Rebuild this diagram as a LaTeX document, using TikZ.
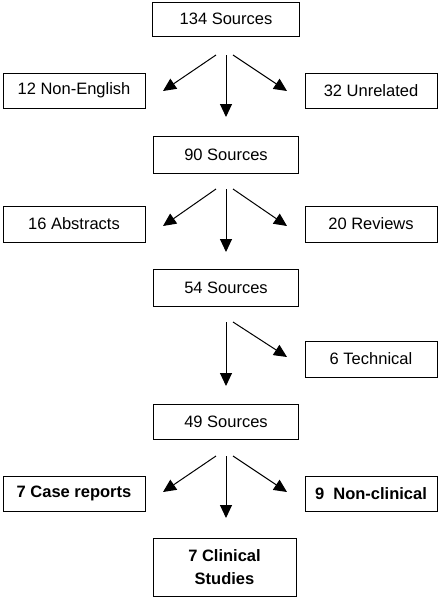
\documentclass[tikz,border=0pt]{standalone}
\usepackage{fontspec}
\setmainfont{Liberation Sans}
\usetikzlibrary{arrows.meta}
\begin{document}
\begin{tikzpicture}[x=1pt,y=-1pt,
        box/.style={draw=black, line width=1pt, inner sep=0pt, font=\fontsize{16.5}{23}\selectfont, align=center},
        arr/.style={line width=1pt, -{Triangle[length=13pt,width=12pt]}}]
        \useasboundingbox (0,0) rectangle (441,598);

        \node [box, minimum width=147pt, minimum height=34pt] (S134) at (226,19) {134 Sources};
        \node [box, minimum width=142pt, minimum height=35pt] (NonEng) at (74,90.5) {12 Non-English};
        \node [box, minimum width=132pt, minimum height=35pt] (Unrel) at (371,90.5) {32 Unrelated};
        \node [box, minimum width=145pt, minimum height=37pt] (S90) at (226,154.5) {90 Sources};
        \node [box, minimum width=142pt, minimum height=36pt] (Abstr) at (74,224) {16 Abstracts};
        \node [box, minimum width=132pt, minimum height=36pt] (Revw) at (371,224) {20 Reviews};
        \node [box, minimum width=145pt, minimum height=37pt] (S54) at (226,287.5) {54 Sources};
        \node [box, minimum width=132pt, minimum height=36pt] (Tech) at (371,359) {6 Technical};
        \node [box, minimum width=145pt, minimum height=35pt] (S49) at (226,421.5) {49 Sources};
        \node [box, minimum width=142pt, minimum height=35pt, font=\fontsize{16.5}{23}\selectfont\bfseries] (Case) at (74,493.5) {7 Case reports};
        \node [box, minimum width=132pt, minimum height=35pt, font=\fontsize{16.5}{23}\selectfont\bfseries] (NonClin) at (371,493.5) {9\ \ Non-clinical};
        \node [box, minimum width=143pt, minimum height=58pt, font=\fontsize{16.5}{23}\selectfont\bfseries] (Clin) at (224.5,567) {7 Clinical\\Studies};

        % stage 1
        \coordinate (a1) at (216,55); \coordinate (a2) at (226,55); \coordinate (a3) at (233,55);
        \coordinate (b1) at (163,91); \coordinate (b2) at (226,117); \coordinate (b3) at (287,91);
        \draw [arr] (a1) -- (b1); \draw [arr] (a2) -- (b2); \draw [arr] (a3) -- (b3);

        % stage 2
        \coordinate (c1) at (216,189); \coordinate (c2) at (226,189); \coordinate (c3) at (233,189);
        \coordinate (d1) at (163,226); \coordinate (d2) at (226,252); \coordinate (d3) at (287,226);
        \draw [arr] (c1) -- (d1); \draw [arr] (c2) -- (d2); \draw [arr] (c3) -- (d3);

        % stage 3
        \coordinate (e2) at (226,322); \coordinate (e3) at (233,322);
        \coordinate (f2) at (226,386); \coordinate (f3) at (287,357);
        \draw [arr] (e2) -- (f2); \draw [arr] (e3) -- (f3);

        % stage 4
        \coordinate (g1) at (216,456); \coordinate (g2) at (226,456); \coordinate (g3) at (233,456);
        \coordinate (h1) at (163,492); \coordinate (h2) at (226,518); \coordinate (h3) at (287,492);
        \draw [arr] (g1) -- (h1); \draw [arr] (g2) -- (h2); \draw [arr] (g3) -- (h3);
\end{tikzpicture}
\end{document}
